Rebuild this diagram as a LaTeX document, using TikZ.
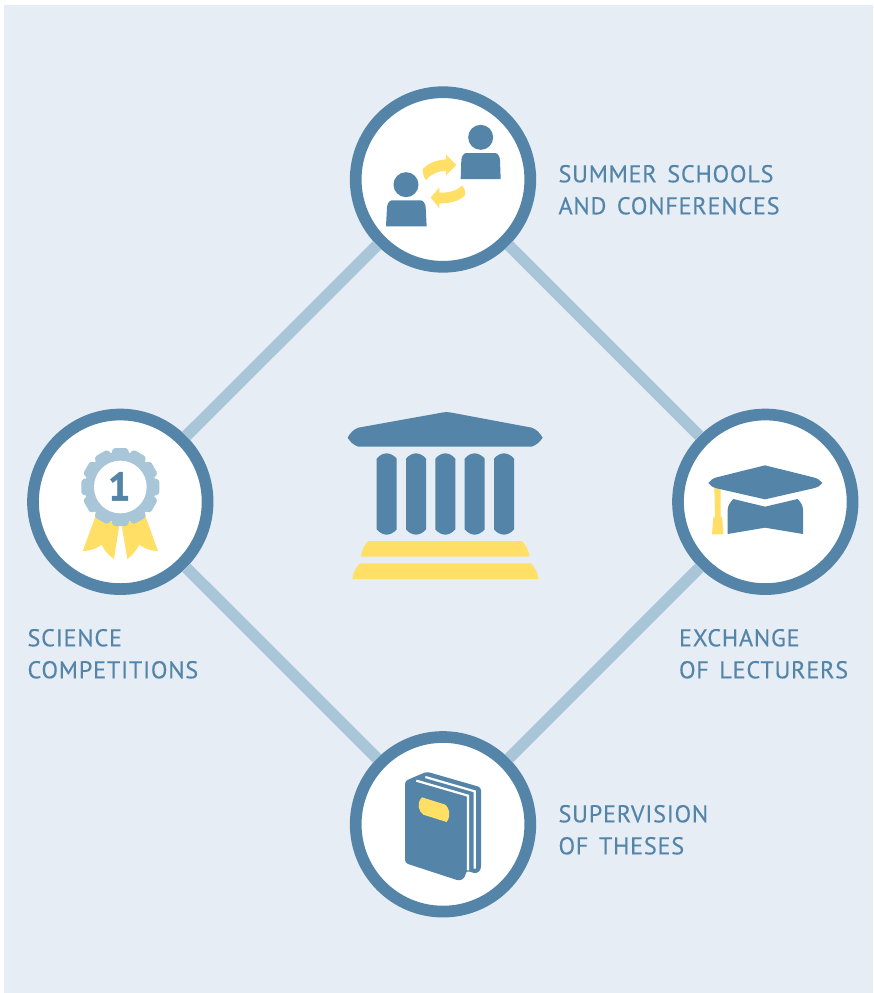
\documentclass[tikz,border=0pt]{standalone}
\usepackage{fontspec}
\setmainfont{PT Sans}
\newfontfamily\lblfont[LetterSpace=3,WordSpace=1.45,FakeBold=0.25]{PT Sans}
\newfontfamily\onefont[FakeBold=1.2]{PT Sans}
\definecolor{bgc}{HTML}{E6EDF5}
\definecolor{blu}{HTML}{5485A9}
\definecolor{lblu}{HTML}{A9C6D9}
\definecolor{yel}{HTML}{FFDF66}
\tikzset{
  hub/.style={circle,draw=blu,fill=white,line width=11.7pt,minimum size=174.6pt,inner sep=0pt},
  link/.style={draw=lblu,line width=11.6pt},
  lbl/.style={anchor=north west,inner sep=0pt,outer sep=0pt,text=blu,align=left,font=\fontsize{24.3pt}{32pt}\selectfont\lblfont},
  bf/.style={fill=blu,draw=none},
  yf/.style={fill=yel,draw=none},
  zm/.style={x=0.33333pt,y=-0.33333pt}
}
\begin{document}
\begin{tikzpicture}[x=1pt,y=-1pt]
\useasboundingbox (0,0) rectangle (873,993);
\fill[bgc] (4,5) rectangle (873,993);
\node[hub] (top) at (443,179.5) {};
\node[hub] (left) at (120.3,501.8) {};
\node[hub] (right) at (765.3,501.8) {};
\node[hub] (bottom) at (443,824.3) {};
\path[link] (top) -- (left);
\path[link] (top) -- (right);
\path[link] (bottom) -- (left);
\path[link] (bottom) -- (right);
\node[lbl] (t1) at (558.5,165) {SUMMER SCHOOLS\\AND CONFERENCES};
\node[lbl] (t2) at (27.5,629) {SCIENCE\\COMPETITIONS};
\node[lbl] (t3) at (679,629) {EXCHANGE\\OF LECTURERS};
\node[lbl] (t4) at (558.5,805) {SUPERVISION\\OF THESES};
% people
\begin{scope}[shift={(340pt,-80pt)},zm]
\fill[blu] (422,172) circle[radius=37.5];
\fill[blu] (198,314) circle[radius=37.5];
\path[bf] (362,297) -- (364,240) .. controls (365,230) and (370,220) .. (378,219) -- (466,219) .. controls (474,220) and (479,230) .. (480,240) -- (482,297) -- cycle;
\path[bf] (138,439) -- (141,382) .. controls (142,372) and (147,362) .. (155,361) -- (243,361) .. controls (251,362) and (256,372) .. (257,382) -- (260,439) -- cycle;
\path[yf] (258,300) .. controls (252,293) and (248,282) .. (248,268) .. controls (262,250) and (290,240) .. (318,238) -- (318,224) -- (349,255) -- (318,286) -- (318,272) .. controls (295,273) and (272,282) .. (258,300) -- cycle;
\path[yf] (366,316) .. controls (373,323) and (377,333) .. (375,345) .. controls (362,362) and (330,371) .. (298,370) -- (298,385) -- (272,352) -- (298,323) -- (298,338) .. controls (325,339) and (350,333) .. (366,316) -- cycle;
\end{scope}
% medal
\begin{scope}[shift={(20pt,-400pt)},zm]
\path[yf] (228,345) -- (298,375) -- (282,477) .. controls (265,465) and (252,450) .. (245,434) .. controls (228,447) and (208,453) .. (188,453) -- cycle;
\path[yf] (375,345) -- (305,375) -- (322,477) .. controls (338,465) and (350,450) .. (358,434) .. controls (375,447) and (395,453) .. (414,453) -- cycle;
\fill[lblu] (301,261) circle[radius=106];
\foreach \a in {0,30,...,330}{
  \fill[lblu,rounded corners=2.5pt,rotate around={\a:(301,261)}] (279,144) -- (323,144) -- (331,175) -- (271,175) -- cycle;
}
\fill[white] (301,261) circle[radius=79];
\node[text=blu,font=\fontsize{40pt}{40pt}\selectfont\onefont\bfseries,inner sep=0pt] (one) at (298,259) {1};
\end{scope}
% cap
\begin{scope}[shift={(665pt,-400pt)},zm]
\path[yf] (148,262) -- (167,262) -- (167,350) -- (172,352) -- (175,403) -- (141,403) -- (145,352) -- (150,350) -- cycle;
\path[bf] (300,196) -- (445,232) .. controls (458,235) and (466,241) .. (472,249) .. controls (466,257) and (458,262) .. (445,265) -- (300,298) -- (155,265) .. controls (143,262) and (136,257) .. (130,249) .. controls (136,241) and (143,235) .. (155,232) -- cycle;
\path[bf] (205,297) -- (300,320) -- (398,297) .. controls (408,307) and (414,318) .. (414,330) -- (414,402) -- (300,383) -- (188,402) -- (188,330) .. controls (188,318) and (195,307) .. (205,297) -- cycle;
\end{scope}
% book
\begin{scope}[shift={(340pt,-725pt)},zm]
\path[bf,rounded corners=3pt] (195,168) -- (260,140) -- (423,187) -- (423,434) -- (410,446) -- (378,437) -- (376,456) -- (360,468) -- (195,414) -- cycle;
\draw[white,line width=2.2pt] (229,167) -- (384,212) -- (384,436);
\draw[white,line width=2.2pt] (256,156) -- (404,199) -- (404,431);
\path[yf] (246,217) -- (316,239) .. controls (328,250) and (334,270) .. (320,291) -- (250,269) .. controls (236,258) and (228,236) .. (246,217) -- cycle;
\end{scope}
% temple
\begin{scope}[shift={(340pt,-400pt)},zm]
\path[bf] (305,38) .. controls (312,36) and (328,36) .. (335,38) -- (575,83) .. controls (590,88) and (600,100) .. (608,113) .. controls (600,125) and (590,135) .. (575,140) -- (55,140) .. controls (40,135) and (30,125) .. (23,113) .. controls (30,100) and (40,88) .. (55,83) -- cycle;
\foreach \cx in {140,228,316,404,492}{
  \path[bf] (\cx-30,176) .. controls (\cx-22,166) and (\cx-10,160) .. (\cx,160) .. controls (\cx+10,160) and (\cx+22,166) .. (\cx+30,176) -- (\cx+30,388) .. controls (\cx+22,398) and (\cx+10,404) .. (\cx,404) .. controls (\cx-10,404) and (\cx-22,398) .. (\cx-30,388) -- cycle;
}
\path[yf] (85,423) -- (545,423) .. controls (558,435) and (566,450) .. (568,470) -- (63,470) .. controls (65,450) and (73,435) .. (85,423) -- cycle;
\path[yf] (60,490) -- (573,490) .. controls (585,503) and (593,518) .. (595,537) -- (37,537) .. controls (39,518) and (47,503) .. (60,490) -- cycle;
\end{scope}
\end{tikzpicture}
\end{document}
